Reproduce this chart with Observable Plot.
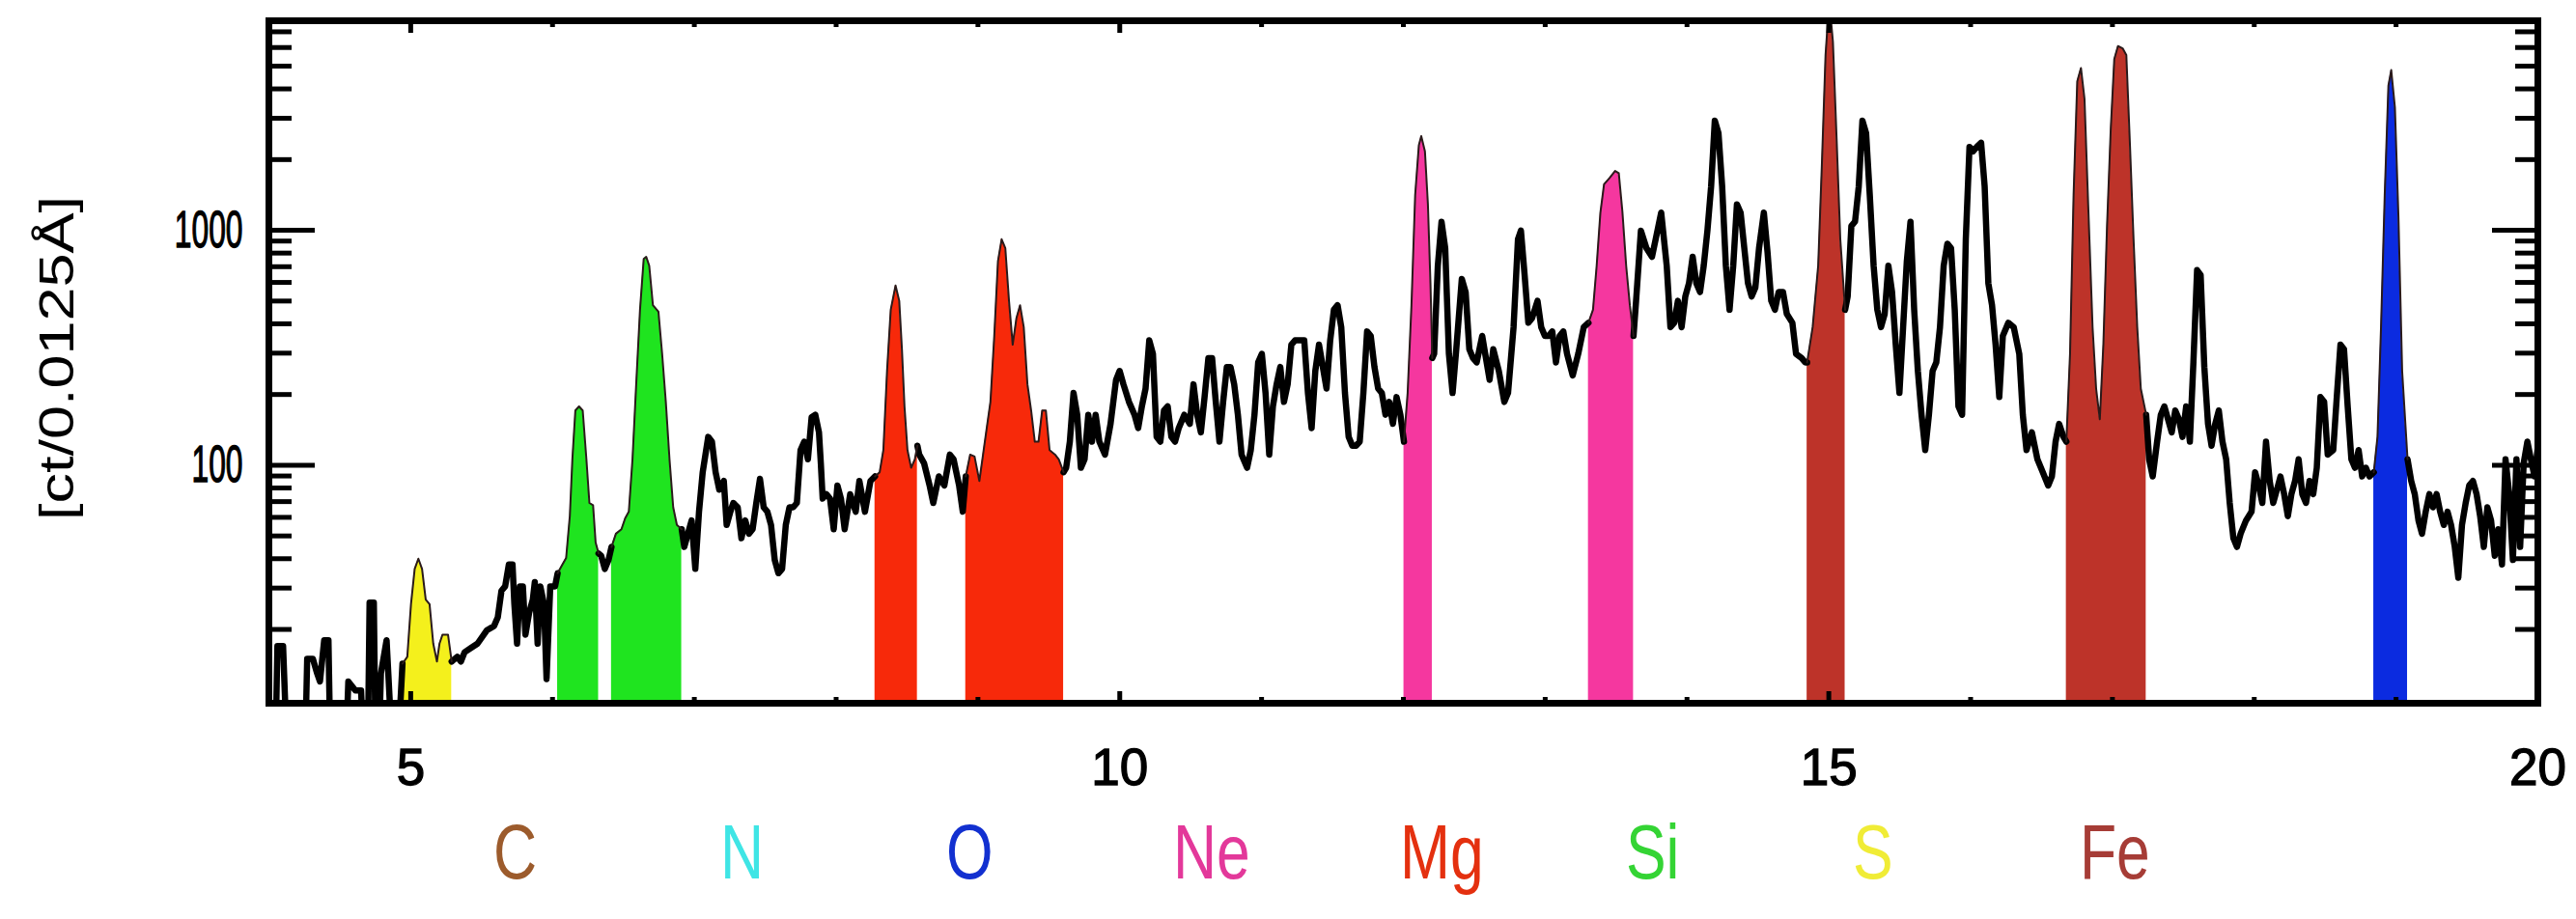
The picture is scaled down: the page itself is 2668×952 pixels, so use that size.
<!DOCTYPE html>
<html><head><meta charset="utf-8">
<script src="https://cdn.jsdelivr.net/npm/d3@7"></script>
<script src="https://cdn.jsdelivr.net/npm/@observablehq/plot@0.6"></script>
<style>
html,body{margin:0;padding:0;background:#fff;}
#wrap{position:relative;width:2668px;height:952px;overflow:hidden;font-family:'Liberation Sans',Arial,Helvetica,sans-serif;}
#legend{position:absolute;left:511px;top:843px;display:flex;}
#legend span{display:block;width:234.7px;font-size:80px;line-height:80px;white-space:nowrap;}
#legend span b{display:inline-block;font-weight:normal;transform:scaleX(0.78);transform-origin:0 50%;}
</style></head>
<body><div id="wrap"><div id="chart"></div><div id="legend"></div></div>
<script>
// ---- data: spectrum [wavelength (Å), counts per 0.0125 Å] ----
const spectrum = [
[4.00,8],[4.05,8],[4.06,17],[4.10,17],[4.12,8],[4.26,8],[4.27,15],[4.31,15],[4.34,13],[4.36,12],[4.39,18],[4.42,18],[4.43,8],[4.55,8],[4.56,12],[4.61,11],[4.65,11],[4.66,8],[4.70,8],[4.71,26],[4.74,26],[4.75,8],[4.78,8],[4.79,13],[4.83,18],[4.86,8],[4.92,8],
[4.942,14.3],[4.976,15.3],[5.002,25.6],[5.028,36.2],[5.054,40],[5.080,36.2],[5.106,26.8],[5.133,25.6],[5.159,17.4],[5.185,14.6],[5.203,17.4],[5.224,19],[5.263,19],[5.289,14.6],
[5.328,15.3],[5.354,14.6],[5.380,16.0],[5.427,16.7],[5.471,17.4],[5.536,19.8],[5.588,20.7],[5.614,22.5],[5.640,29.2],[5.666,30.5],[5.692,37.8],[5.718,37.8],[5.731,25.6],[5.750,17.4],[5.770,30.5],[5.791,30.5],[5.809,19.0],[5.835,23.5],[5.861,26.8],[5.875,31.8],[5.895,17.4],[5.914,30.5],[5.940,25.6],[5.958,12.3],[5.984,30.5],[6.018,30.5],
[6.036,34.7],[6.070,37.8],[6.096,40.3],[6.122,60.7],[6.140,106],[6.161,171],[6.187,178],[6.213,171],[6.239,106],[6.260,69.1],[6.286,67.6],[6.304,46.9],[6.325,42.1],
[6.343,41.2],[6.369,36.2],[6.395,39.5],
[6.416,44.9],[6.447,51.1],[6.486,53.4],[6.512,59.4],[6.538,63.4],[6.564,106],[6.590,221],[6.617,459],[6.643,755],[6.661,771],[6.682,707],[6.708,480],[6.747,450],[6.773,298],[6.799,186],[6.825,106],[6.851,66.2],[6.877,55.7],[6.911,53.4],
[6.929,44.9],[6.955,51.1],[6.981,58.2],[7.007,36.2],[7.033,63.4],[7.059,93.4],[7.098,132],[7.124,126],[7.150,93.4],[7.176,78.7],[7.208,85.7],[7.228,55.7],[7.254,63.4],[7.275,69.1],[7.306,66.2],[7.332,48.9],[7.359,58.2],[7.385,51.1],[7.411,53.4],[7.437,69.1],[7.463,87.5],[7.489,66.2],[7.515,63.4],[7.541,55.7],[7.567,39.5],[7.593,34.7],[7.619,36.2],[7.645,55.7],[7.671,66.2],[7.697,66.2],[7.723,69.1],[7.749,116],[7.775,126],[7.801,106],[7.827,160],[7.853,164],[7.879,138],[7.892,102],[7.905,72.1],[7.931,75.3],[7.957,72.1],[7.983,53.4],[8.009,82],
[8.034,72.1],[8.060,53.4],[8.099,75.3],[8.138,63.4],[8.164,85.7],[8.203,63.4],[8.242,85.7],
[8.274,89.6],[8.307,93.4],[8.333,116],[8.359,252],[8.385,459],[8.419,582],[8.445,501],[8.464,312],[8.482,178],[8.503,116],[8.529,97.5],[8.555,106],[8.573,121],
[8.586,111],[8.620,102],[8.659,82],[8.685,69.1],[8.724,89.6],[8.763,82],[8.802,111],[8.828,106],[8.867,82],[8.893,63.4],
[8.914,89.6],[8.945,111],[8.976,109],[9.010,85.7],[9.036,111],[9.062,144],[9.088,186],[9.115,355],[9.141,738],[9.167,916],[9.193,840],[9.219,501],[9.245,326],[9.271,422],[9.297,480],[9.323,387],[9.349,221],[9.375,171],[9.401,126],[9.427,126],[9.453,171],[9.479,171],[9.505,116],[9.544,111],[9.570,106],[9.604,93.4],
[9.622,97.5],[9.648,126],[9.674,203],[9.700,164],[9.726,97.5],[9.752,106],[9.778,164],[9.804,126],[9.830,164],[9.856,126],[9.896,111],[9.935,150],[9.974,231],[9.999,252],[10.026,221],[10.065,186],[10.104,164],[10.130,144],[10.156,178],[10.182,212],[10.208,340],[10.234,298],[10.260,132],[10.286,126],[10.312,171],[10.338,178],[10.364,132],[10.390,126],[10.416,144],[10.455,164],[10.494,150],[10.520,221],[10.546,164],[10.572,138],[10.598,195],[10.625,286],[10.651,286],[10.677,186],[10.703,126],[10.729,186],[10.755,262],[10.781,262],[10.807,221],[10.833,164],[10.859,111],[10.898,97.5],[10.924,116],[10.950,164],[10.976,274],[11.002,298],[11.028,203],[11.054,111],[11.080,178],[11.106,221],[11.132,262],[11.158,186],[11.184,221],[11.210,326],[11.236,340],[11.275,340],[11.301,340],[11.327,203],[11.353,144],[11.379,252],[11.405,326],[11.432,262],[11.458,212],[11.484,340],[11.510,459],[11.536,480],[11.562,387],[11.588,203],[11.614,132],[11.640,121],[11.666,121],[11.692,126],[11.718,203],[11.744,371],[11.770,355],[11.796,262],[11.822,212],[11.848,203],[11.874,164],[11.900,186],[11.926,150],[11.952,195],[11.979,164],
[12.004,126],[12.030,203],[12.057,480],[12.083,1410],[12.109,2300],[12.126,2520],[12.152,2170],[12.173,1290],[12.191,595],[12.204,286],
[12.217,298],[12.243,707],[12.269,1088],[12.295,840],[12.321,298],[12.347,203],[12.373,312],[12.412,621],[12.439,546],[12.465,312],[12.491,286],[12.517,274],[12.556,355],[12.582,286],[12.608,231],[12.634,312],[12.673,252],[12.712,186],[12.738,203],[12.777,387],[12.808,916],[12.829,997],[12.855,645],[12.881,404],[12.907,422],[12.946,501],[12.972,387],[12.998,355],[13.024,355],[13.050,371],[13.076,274],[13.102,355],[13.128,371],[13.154,298],[13.194,241],[13.233,298],[13.272,387],
[13.305,404],[13.337,459],[13.363,707],[13.389,1186],[13.415,1570],[13.454,1670],[13.493,1790],[13.519,1750],[13.545,1190],[13.571,707],[13.597,480],[13.623,355],
[13.641,501],[13.675,997],[13.714,840],[13.753,771],[13.779,916],[13.818,1190],[13.857,707],[13.883,387],[13.910,404],[13.936,501],[13.962,387],[13.988,523],[14.014,595],[14.040,771],[14.066,595],[14.092,546],[14.118,707],[14.144,997],[14.170,1535],[14.196,2930],[14.222,2590],[14.248,1535],[14.274,707],[14.300,459],[14.326,707],[14.352,1290],[14.378,1190],[14.404,840],[14.430,595],[14.456,523],[14.482,570],[14.508,840],[14.542,1190],[14.568,805],[14.594,501],[14.620,459],[14.646,546],[14.677,546],[14.704,440],[14.743,404],[14.769,298],[14.808,286],[14.834,274],
[14.847,274],[14.886,387],[14.925,707],[14.951,1900],[14.977,5580],[15.003,9500],[15.029,6350],[15.055,2460],[15.081,916],[15.115,459],
[15.133,523],[15.159,1043],[15.185,1090],[15.211,1535],[15.237,2930],[15.263,2590],[15.289,1410],[15.316,707],[15.342,459],[15.368,387],[15.394,440],[15.420,707],[15.446,546],[15.472,326],[15.498,203],[15.524,387],[15.550,738],[15.576,1088],[15.602,459],[15.628,252],[15.654,164],[15.680,116],[15.706,164],[15.732,252],[15.758,274],[15.784,387],[15.810,707],[15.836,877],[15.862,840],[15.888,459],[15.914,178],[15.940,164],[15.966,916],[15.992,2265],[16.018,2170],[16.044,2265],[16.074,2360],[16.099,1535],[16.125,595],[16.151,480],[16.176,326],[16.202,195],[16.227,355],[16.266,404],[16.304,387],[16.343,298],[16.368,164],[16.394,116],[16.432,138],[16.471,106],[16.509,93.4],[16.547,82],[16.573,89.6],[16.599,126],[16.624,150],[16.655,132],
[16.675,126],[16.701,298],[16.726,1410],[16.752,4310],[16.778,4910],[16.803,3630],[16.829,1290],[16.860,387],[16.885,212],[16.911,157],[16.936,326],[16.962,1043],[16.988,2690],[17.013,5350],[17.039,6090],[17.072,5950],[17.098,5580],[17.123,2360],[17.149,916],[17.175,387],[17.200,212],[17.238,164],
[17.259,106],[17.284,89.6],[17.315,126],[17.341,164],[17.366,178],[17.392,157],[17.418,138],[17.443,171],[17.469,157],[17.494,132],[17.520,178],[17.546,126],[17.571,274],[17.597,677],[17.622,645],[17.648,262],[17.674,150],[17.699,121],[17.725,150],[17.750,171],[17.776,126],[17.802,106],[17.827,69.1],[17.853,48.9],[17.878,44.9],[17.904,51.1],[17.942,58.2],[17.981,63.4],[18.006,93.4],[18.032,82],[18.057,69.1],[18.083,126],[18.109,85.7],[18.134,69.1],[18.160,78.7],[18.185,89.6],[18.211,75.3],[18.237,60.7],[18.262,75.3],[18.288,85.7],[18.313,106],[18.339,75.3],[18.365,69.1],[18.390,85.7],[18.416,75.3],[18.441,97.5],[18.467,195],[18.493,186],[18.518,111],[18.557,116],[18.582,195],[18.608,326],[18.633,312],[18.659,178],[18.685,106],[18.710,97.5],[18.736,116],[18.761,89.6],[18.787,97.5],[18.812,89.6],
[18.843,93.4],[18.869,132],[18.894,387],[18.920,1410],[18.946,4130],[18.966,4810],[18.992,3330],[19.017,1135],[19.043,252],[19.081,106],
[19.107,85.7],[19.132,75.3],[19.158,58.2],[19.183,51.1],[19.209,63.4],[19.235,75.3],[19.260,66.2],[19.286,75.3],[19.311,63.4],[19.337,55.7],[19.363,63.4],[19.388,55.7],[19.414,44.9],[19.439,33.2],[19.465,55.7],[19.491,69.1],[19.516,82],[19.542,85.7],[19.568,75.3],[19.593,60.7],[19.619,44.9],[19.644,66.2],[19.670,58.2],[19.696,41.2],[19.721,53.4],[19.747,37.8],[19.772,106],[19.798,75.3],[19.824,39.5],[19.849,106],[19.875,44.9],[19.900,102],[19.926,126],[19.951,106],[19.977,89.6],[20.0,120]
];

// line bands (wavelength ranges) highlighted per element
const bandElements = ["S", "Si", "Si", "Mg", "Mg", "Ne", "Ne", "Fe", "Fe", "O"];
const bandStart    = [4.942, 6.036, 6.416, 8.274, 8.914, 12.004, 13.305, 14.847, 16.675, 18.843];
const bandEnd      = [5.289, 6.325, 6.911, 8.573, 9.604, 12.204, 13.623, 15.115, 17.238, 19.081];

// legend
const legendElements = ["C", "N", "O", "Ne", "Mg", "Si", "S", "Fe"];

// axes
const xDomain = [4, 20];
const yDomain = [9.7, 7800];
const xMajorTicks = [5, 10, 15, 20];
const xMinorTicks = [6, 7, 8, 9, 11, 12, 13, 14, 16, 17, 18, 19];
const yMajorTicks = [100, 1000];
const yMinorTicks = [20, 30, 40, 50, 60, 70, 80, 90, 200, 300, 400, 500, 600, 700, 800, 900, 2000, 3000, 4000, 5000, 6000, 7000];
const yLabel = "[ct/0.0125Å]";

// styles
const fillColors = {S: "#f4f01c", Si: "#1fe41f", Mg: "#f7290a", Ne: "#f5379f", Fe: "#bd3329", O: "#0b2be0"};
const labelColors = {C: "#9c5b2c", N: "#3fe5e5", O: "#1230d0", Ne: "#e3389a", Mg: "#e4300f", Si: "#34d434", S: "#f0ec36", Fe: "#a63c36"};

// ---- build ----
const points = spectrum.map(([w, v]) => ({w, v}));
const bands = bandElements.map((el, i) => ({el, lo: bandStart[i], hi: bandEnd[i]}));
const inside = w => bands.some(b => w > b.lo && w < b.hi);
const linePoints = points.map(p => ({w: p.w, v: inside(p.w) ? NaN : p.v}));

const bandMarks = [];
const bandOutlines = [];
for (const b of bands) {
  const seg = points.filter(p => p.w >= b.lo && p.w <= b.hi);
  bandMarks.push(Plot.areaY(seg, {x: "w", y1: yDomain[0], y2: "v", fill: fillColors[b.el], clip: true}));
  bandOutlines.push(Plot.line(seg, {x: "w", y: "v", stroke: "#2a1a1a", strokeWidth: 2, clip: true}));
}

const H = 840;
const tickW = 5;
const chart = Plot.plot({
  width: 2668,
  height: H,
  marginLeft: 278,
  marginRight: 40,
  marginTop: 21,
  marginBottom: H - 728,
  style: {fontFamily: "'Liberation Sans', Arial, Helvetica, sans-serif", background: "white", color: "black", overflow: "visible"},
  x: {domain: xDomain},
  y: {type: "log", domain: yDomain},
  marks: [
    ...bandMarks,
    Plot.line(linePoints, {x: "w", y: "v", stroke: "black", strokeWidth: 6.5, strokeLinejoin: "round", clip: true}),
    ...bandOutlines,
    Plot.axisX({anchor: "bottom", ticks: xMinorTicks, tickSize: -6, strokeWidth: tickW, fill: "none", label: null}),
    Plot.axisX({anchor: "bottom", ticks: xMajorTicks, tickSize: -12, strokeWidth: tickW, tickPadding: 59, fontSize: 53, label: null, tickFormat: d => String(d)}),
    Plot.axisX({anchor: "top", ticks: xMinorTicks, tickSize: -6, strokeWidth: tickW, fill: "none", label: null}),
    Plot.axisX({anchor: "top", ticks: xMajorTicks, tickSize: -12, strokeWidth: tickW, fill: "none", label: null}),
    Plot.axisY({anchor: "left", ticks: yMinorTicks, tickSize: -24, strokeWidth: tickW, fill: "none", label: null}),
    Plot.axisY({anchor: "left", ticks: yMajorTicks, tickSize: -48, strokeWidth: tickW, tickPadding: 75, fontSize: 53, label: null, tickFormat: d => String(d)}),
    Plot.axisY({anchor: "right", ticks: yMinorTicks, tickSize: -24, strokeWidth: tickW, fill: "none", label: null}),
    Plot.axisY({anchor: "right", ticks: yMajorTicks, tickSize: -48, strokeWidth: tickW, fill: "none", label: null}),
    Plot.frame({stroke: "black", strokeWidth: 7}),
    Plot.text([yLabel], {text: d => d, frameAnchor: "left", textAnchor: "middle", lineAnchor: "middle", dx: -218, dy: -4, rotate: -90, fontSize: 63, fill: "black"})
  ]
});
document.getElementById("chart").appendChild(chart);

// typographic adjustments: condensed y tick labels, slightly heavier tick digits, condensed y title
d3.select(chart).selectAll("g[aria-label='y-axis tick label'] text").each(function() {
  const t = this.getAttribute("transform") || "";
  this.setAttribute("transform", t + " scale(0.6,1)");
});
d3.select(chart).selectAll("g[aria-label$='tick label'] text")
  .style("stroke", "black").style("stroke-width", "1.3px").style("paint-order", "stroke");
d3.select(chart).selectAll("text").filter(function() { return this.textContent === yLabel; }).each(function() {
  const t = this.getAttribute("transform") || "";
  this.setAttribute("transform", t.replace(/rotate\(([^)]*)\)/, "scale(0.78,1) rotate($1)"));
});

const legend = d3.select("#legend");
legend.selectAll("span").data(legendElements).join("span")
  .style("color", d => labelColors[d])
  .append("b").text(d => d);
</script>
</body></html>
